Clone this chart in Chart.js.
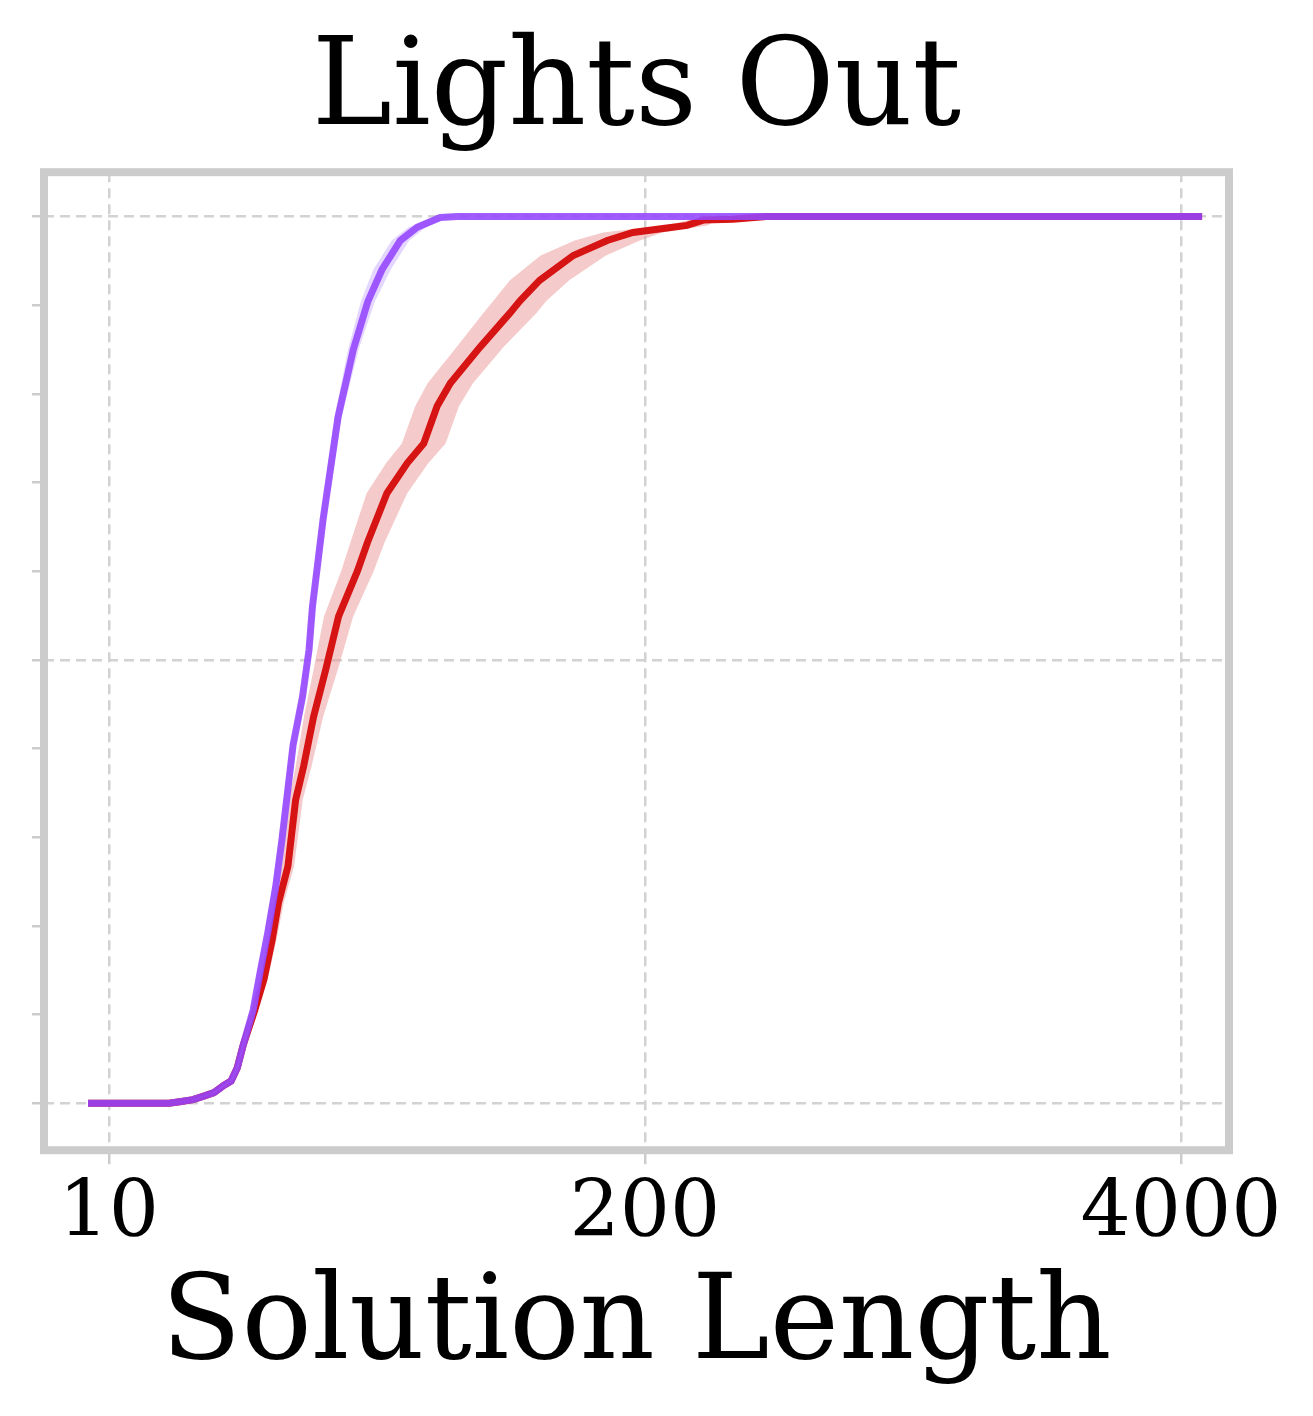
<!DOCTYPE html>
<html>
<head>
<meta charset="utf-8">
<script src="https://cdn.jsdelivr.net/npm/chart.js@4"></script>
<style>
  html, body { margin: 0; padding: 0; background: #fff; }
  #wrap { width: 1313px; height: 1416px; position: relative; }
</style>
</head>
<body>
<div id="wrap"><canvas id="chart"></canvas></div>
<script>
// solution lengths (x) and cumulative fraction solved (y)
const purpleX = [8.9, 14, 15, 16, 17, 18, 19, 19.8, 20.5, 21.2, 22.4, 23.3, 24.3, 25.4, 26.3, 28, 29.5, 30.6, 31.2, 33.1, 36, 39.2, 42.5, 46, 51, 56, 63.7, 70, 4500];
const purpleY = [0, 0, 0.002, 0.004, 0.008, 0.012, 0.02, 0.025, 0.04, 0.066, 0.105, 0.148, 0.192, 0.244, 0.297, 0.404, 0.458, 0.511, 0.56, 0.658, 0.774, 0.85, 0.904, 0.94, 0.973, 0.988, 0.999, 1, 1];
// left / right edges of the shaded spread around the purple curve
const purpleLeftX = [8.9, 14, 14.88, 15.87, 16.87, 17.86, 18.85, 19.64, 20.34, 21.03, 22.07, 22.96, 23.94, 25.02, 25.91, 27.59, 29.06, 30.15, 30.74, 32.61, 35.29, 38.06, 40.87, 43.81, 48.57, 53.33, 61.25, 68.6, 4500];
const purpleRightX = [8.9, 14, 15.12, 16.13, 17.14, 18.14, 19.15, 19.96, 20.66, 21.37, 22.74, 23.65, 24.66, 25.78, 26.69, 28.42, 29.94, 31.06, 31.67, 33.6, 36.72, 40.38, 44.2, 48.3, 53.55, 58.8, 66.25, 71.4, 4500];

const redX = [8.9, 14, 15, 16, 17, 18, 19, 19.8, 20.5, 21.2, 22.6, 23.8, 24.9, 25.8, 27.2, 28.4, 29.7, 31.4, 33.6, 36.1, 40.1, 42.4, 47.3, 53, 58.1, 62.6, 67.4, 79.7, 94, 99.5, 111, 134, 162, 187, 226, 253, 277, 327, 395, 4500];
const redY = [0, 0, 0.002, 0.004, 0.008, 0.012, 0.02, 0.025, 0.04, 0.066, 0.105, 0.14, 0.184, 0.226, 0.267, 0.342, 0.38, 0.436, 0.489, 0.549, 0.6, 0.632, 0.688, 0.722, 0.744, 0.786, 0.812, 0.853, 0.891, 0.905, 0.928, 0.956, 0.973, 0.982, 0.987, 0.99, 0.996, 0.997, 1, 1];
const redLeftX = [8.9, 14, 14.85, 15.84, 16.83, 17.82, 18.81, 19.6, 20.3, 21.0, 22.27, 23.33, 24.29, 25.05, 26.28, 27.31, 28.42, 29.76, 31.4, 33.27, 36.62, 38.55, 42.23, 47.11, 51.42, 55.4, 59.38, 69.91, 81.03, 85.78, 94.07, 111.7, 135, 158.5, 196.5, 225.9, 256.5, 308.5, 380, 4500];
const redRightX = [8.9, 14, 15.15, 16.16, 17.17, 18.18, 19.19, 20.0, 20.7, 21.4, 22.94, 24.28, 25.52, 26.57, 28.15, 29.54, 31.04, 33.13, 35.95, 39.17, 43.91, 46.64, 52.98, 59.63, 65.65, 70.74, 76.5, 90.86, 109.0, 115.4, 131.0, 160.8, 194.4, 220.7, 259.9, 283.4, 299.2, 346.6, 410, 4500];

const xTicks = [10, 200, 4000];
const yTicks = [0, 0.1, 0.2, 0.3, 0.4, 0.5, 0.6, 0.7, 0.8, 0.9, 1];

function pts(xs, ys) {
    return xs.map((x, i) => ({ x: x, y: ys[i] }));
}

function lineSet(data, color, width, fill, fillColor) {
    return {
        data: data,
        showLine: true,
        borderColor: color,
        backgroundColor: fillColor || color,
        borderWidth: width,
        pointRadius: 0,
        fill: fill,
        tension: 0
    };
}

// grey box around the plot area, like the axes spines
const framePlugin = {
    id: 'frame',
    afterDraw(chart) {
        const a = chart.chartArea;
        const ctx = chart.ctx;
        ctx.save();
        ctx.strokeStyle = '#cccccc';
        ctx.lineWidth = 8;
        ctx.strokeRect(a.left, a.top, a.right - a.left, a.bottom - a.top);
        ctx.restore();
    }
};

function isMajor(v) {
    return Math.abs(v * 2 - Math.round(v * 2)) < 1e-6;
}

const serif = "'DejaVu Serif', serif";
const clear = 'rgba(0,0,0,0)';

// first dataset ends up on top
new Chart(document.getElementById('chart'), {
    type: 'scatter',
    data: {
        datasets: [
            lineSet(pts(purpleX, purpleY), 'rgba(148,70,255,0.88)', 7, false),
            lineSet(pts(purpleLeftX, purpleY), clear, 0, '+1', 'rgba(205,180,255,0.55)'),
            lineSet(pts(purpleRightX, purpleY), clear, 0, false),
            lineSet(pts(redX, redY), '#d61414', 7, false),
            lineSet(pts(redLeftX, redY), clear, 0, '+1', 'rgba(236,150,150,0.5)'),
            lineSet(pts(redRightX, redY), clear, 0, false)
        ]
    },
    options: {
        responsive: true,
        maintainAspectRatio: false,
        animation: false,
        layout: { padding: { left: 32, right: 84, top: 0, bottom: 30 } },
        plugins: {
            legend: { display: false },
            tooltip: { enabled: false },
            title: {
                display: true,
                fullSize: false,
                text: 'Lights Out',
                color: '#000',
                font: { family: serif, size: 121, weight: 'normal', lineHeight: 1.2 },
                padding: { top: 20, bottom: 7 }
            }
        },
        scales: {
            x: {
                type: 'logarithmic',
                min: 6.96,
                max: 5230,
                afterBuildTicks: scale => { scale.ticks = xTicks.map(v => ({ value: v })); },
                ticks: {
                    color: '#000',
                    font: { family: serif, size: 79 },
                    padding: 4,
                    maxRotation: 0,
                    autoSkip: false,
                    callback: v => String(v)
                },
                grid: {
                    color: '#d2d2d2',
                    lineWidth: 2.5,
                    tickLength: 14,
                    tickColor: '#cccccc',
                    tickWidth: 2.5
                },
                border: { display: false, dash: [10, 6] },
                title: {
                    display: true,
                    text: 'Solution Length',
                    color: '#000',
                    font: { family: serif, size: 117, weight: 'normal', lineHeight: 1.0 },
                    padding: { top: 2, bottom: 0 }
                }
            },
            y: {
                min: -0.053,
                max: 1.05,
                afterBuildTicks: scale => { scale.ticks = yTicks.map(v => ({ value: v })); },
                ticks: { display: false },
                grid: {
                    color: ctx => isMajor(ctx.tick.value) ? '#d2d2d2' : clear,
                    lineWidth: 2.5,
                    tickLength: 12,
                    tickColor: '#cccccc',
                    tickWidth: 2.5
                },
                border: { display: false, dash: [10, 6] }
            }
        }
    },
    plugins: [framePlugin]
});
</script>
</body>
</html>
